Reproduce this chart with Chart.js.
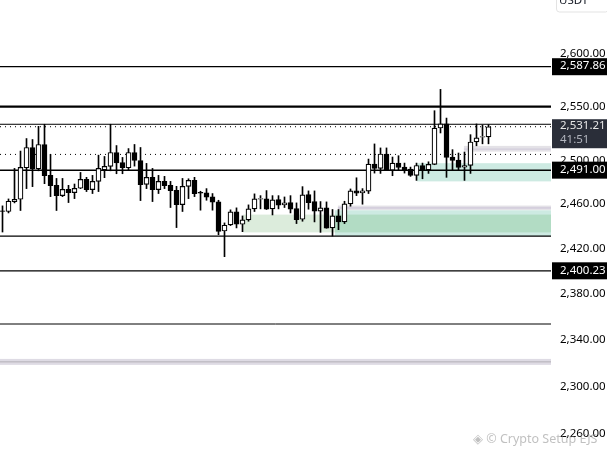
<!DOCTYPE html>
<html>
<head>
<meta charset="utf-8">
<style>
    html, body { margin: 0; padding: 0; background: #fff; }
    #wrap { width: 607px; height: 455px; }
</style>
<script src="https://cdn.jsdelivr.net/npm/chart.js@4"></script>
</head>
<body>
<div id="wrap"><canvas id="chart"></canvas></div>
<script>
// Candles
const opens = [2453.9,2453.3,2462.3,2464.4,2493.2,2511.9,2492.2,2514.7,2486.2,2477.1,2467.7,2473.5,2470.5,2474.4,2482.5,2473.2,2480.7,2491.3,2494.4,2507.3,2498,2493.2,2507.3,2499.9,2478,2484.4,2473.2,2480.7,2477.1,2472.6,2459.6,2476.2,2481.6,
    2470.8,2470.2,2466.5,2462,2435.7,2441.2,2453,2441.8,2445.7,2455.7,2464.4,2464.7,2455.7,2464.1,2459.3,2461.4,2456,2446.3,2468.7,2462.3,2453.6,2456.6,2438.5,2449.3,2443.9,2460.2,2472,2470.2,
    2471.7,2496.6,2492.6,2505.9,2491,2497.5,2493.8,2491.9,2486.2,2495.3,2491.3,2496.3,2530,2533.8,2503.1,2500.3,2493.8,2495.3,2517,2521.4,2521.7];
const closes = [2453.3,2462.6,2464.4,2493.5,2511.9,2492.2,2514.7,2485.9,2476.8,2467.7,2473.5,2470.5,2474.4,2482.5,2473.2,2480.7,2492.6,2494.4,2507.3,2497.7,2493.2,2507.3,2499.9,2477.7,2484.4,2473.2,2480.7,2476.8,2472.3,2459.6,2476.2,2481.6,2469.6,
    2469.9,2466.2,2461.7,2435.4,2440.9,2453,2441.8,2445.7,2455.7,2464.7,2465,2455.4,2463.8,2459,2461.1,2455.4,2446,2468.4,2461.4,2453.6,2456.6,2438.2,2449.3,2443.9,2460.2,2472,2469.9,2472,
    2496.6,2492.6,2505.9,2491,2497.5,2493.5,2491,2486.2,2495.3,2491.3,2496.3,2530,2533.8,2502.8,2500,2493.5,2495.3,2517,2520.8,2522,2531.2];
const highs = [2458.4,2464.7,2492.6,2508.6,2520.2,2519.3,2531.6,2533.5,2505.5,2483.4,2483.4,2477.1,2478.3,2488.9,2484.4,2486.2,2504.8,2503.6,2533.5,2513.7,2502.7,2510.9,2514.7,2511.9,2497.2,2492.6,2486.2,2485.3,2480.7,2476.2,2483.4,2483.1,2484.4,
    2471.7,2474.1,2469.6,2463.5,2443,2454.8,2456.6,2449.3,2459.3,2469.3,2467.7,2472.3,2467.7,2467.7,2466.5,2467.7,2461.1,2475.9,2472,2472,2462.3,2462,2455.1,2455.1,2462.6,2473.8,2484,2474.1,
    2501.2,2515.2,2511.5,2511.5,2503.1,2504.3,2497.5,2493.8,2497.5,2497.5,2498.7,2546.2,2566.3,2539.3,2509.9,2506.8,2507.7,2523.8,2533.8,2532.8,2533.2];
const lows = [2434.8,2452,2461.1,2454.2,2474.1,2475.9,2490.4,2478.6,2466.8,2454.2,2466.8,2461.4,2465,2474.1,2471.4,2469.6,2471.4,2484.1,2490.4,2487.7,2487.7,2491,2494.7,2463.2,2474.1,2462.3,2469.6,2474.1,2456.9,2438.8,2453.3,2465,2466.8,
    2454.5,2463.5,2454.5,2432.4,2412.8,2440.6,2438.5,2435.1,2444.5,2453.3,2455.7,2455.1,2450.2,2455.7,2456.9,2452,2442.4,2444.5,2455.4,2443.9,2434.5,2438.2,2431.2,2436.9,2442.4,2458.1,2467.7,2459.9,
    2469.6,2488.3,2488,2490.5,2485.9,2491,2488.3,2485.3,2481.6,2483.1,2488,2496,2525.4,2484.4,2491.3,2491.3,2481.6,2488,2513.5,2515.3,2515.3];

// Horizontal levels
const solidLevels = [2587.86, 2550, 2533.5, 2491, 2431.2, 2400.23, 2353.6];
const solidWidths = [1.3, 2.2, 1, 1.5, 1.2, 1.2, 1];
const dottedLevels = [2531.21, 2505.5];

// Price axis
const tickValues = [2600, 2550, 2500, 2460, 2420, 2380, 2340, 2300, 2260];
const axisMin = 2255.8;
const axisMax = 2636.8;
const slotMin = -0.417;
const slotMax = 91.417;

// Zones: price range and the candle slot they start / end at
const zoneTops = [2323.5, 2321.5, 2513.4, 2511, 2458.7, 2457.4, 2454.4, 2450.5, 2450.5, 2497.4];
const zoneBottoms = [2318.4, 2320.5, 2508.1, 2509.7, 2454.4, 2455.7, 2431.2, 2434.5, 2434.5, 2480.7];
const zoneStarts = [slotMin, slotMin, 76.9, 76.9, 55.9, 55.9, 55.4, 55.4, 40.1, 69.1];
const zoneEnds = [slotMax, slotMax, slotMax, slotMax, slotMax, slotMax, slotMax, slotMax, 55.4, slotMax];
const zoneFills = ['#dedbe4', '#b9b6bd', '#e4e2e7', '#d5cfdd', '#e4e2e7', '#d5cfdd', '#cdeae2', '#b2dcc4', '#dcecdc', '#cdeae2'];

// Price tags on the axis
const tagValues = [2587.86, 2491, 2400.23];
const lastPrice = 2531.21;
const countdown = '41:51';

const FONT = '"Noto Sans", sans-serif';
const fmt = v => v.toLocaleString('en-US', { minimumFractionDigits: 2, maximumFractionDigits: 2 });

const overlays = {
    id: 'overlays',
    beforeDatasetsDraw(chart) {
        const { ctx, scales: { x, y } } = chart;
        ctx.save();
        zoneTops.forEach((top, i) => {
            const x0 = x.getPixelForValue(zoneStarts[i]);
            const x1 = x.getPixelForValue(zoneEnds[i]);
            const y0 = y.getPixelForValue(top);
            const y1 = y.getPixelForValue(zoneBottoms[i]);
            ctx.fillStyle = zoneFills[i];
            ctx.fillRect(x0, y0, x1 - x0, y1 - y0);
        });
        // watermark
        ctx.fillStyle = 'rgba(140,140,140,0.55)';
        ctx.font = '12.5px ' + FONT;
        ctx.textAlign = 'left';
        ctx.textBaseline = 'middle';
        ctx.fillText('◈ © Crypto Setup EJS', 473, 439);
        ctx.restore();
    },
    afterDraw(chart) {
        const { ctx, scales: { y } } = chart;
        ctx.save();
        ctx.font = '11.5px ' + FONT;
        ctx.textAlign = 'left';
        ctx.textBaseline = 'middle';

        // last price box with countdown
        const py = y.getPixelForValue(lastPrice);
        ctx.fillStyle = '#2a2e39';
        ctx.fillRect(552, py - 7.5, 55, 29);
        ctx.fillStyle = '#e6e6e6';
        ctx.fillText(fmt(lastPrice), 560, py - 1);
        ctx.fillStyle = '#b2b5be';
        ctx.fillText(countdown, 560, py + 13);

        tagValues.forEach(v => {
            const ty = y.getPixelForValue(v);
            ctx.fillStyle = '#000';
            ctx.fillRect(552, ty - 8.5, 55, 17);
            ctx.fillStyle = '#fff';
            ctx.fillText(fmt(v), 560, ty - 0.5);
        });

        // currency box, cut off by the top edge
        ctx.strokeStyle = '#e3e3e3';
        ctx.beginPath();
        ctx.roundRect(556.5, -10, 52, 22, 3);
        ctx.stroke();
        ctx.fillStyle = '#131722';
        ctx.fillText('USDT', 559, 1);
        ctx.restore();
    }
};

const levelDataset = (value, width, dash) => ({
    type: 'line',
    data: [{ x: slotMin, y: value }, { x: slotMax, y: value }],
    borderColor: '#000',
    borderWidth: width,
    borderDash: dash,
    pointRadius: 0,
    order: 3
});

new Chart(document.getElementById('chart'), {
    type: 'bar',
    data: {
        datasets: [
            {
                // bodies
                data: opens.map((o, i) => ({ x: i, y: [o, closes[i]] })),
                backgroundColor: opens.map((o, i) => closes[i] >= o ? '#fff' : '#000'),
                borderColor: '#000',
                borderWidth: 1.2,
                borderSkipped: false,
                barThickness: 5,
                grouped: false,
                order: 1
            },
            {
                // wicks
                data: lows.map((l, i) => ({ x: i, y: [l, highs[i]] })),
                backgroundColor: '#000',
                borderWidth: 0,
                barThickness: 1,
                grouped: false,
                order: 2
            },
            ...solidLevels.map((v, i) => levelDataset(v, solidWidths[i], [])),
            ...dottedLevels.map(v => levelDataset(v, 1, [1, 4]))
        ]
    },
    options: {
        responsive: true,
        maintainAspectRatio: false,
        animation: false,
        layout: { padding: 0, autoPadding: false },
        plugins: { legend: { display: false }, tooltip: { enabled: false } },
        scales: {
            x: { type: 'linear', display: false, offset: false, min: slotMin, max: slotMax },
            y: {
                type: 'logarithmic',
                position: 'right',
                min: axisMin,
                max: axisMax,
                grid: { display: false, drawTicks: false },
                border: { display: false },
                afterFit: scale => { scale.width = 56; },
                afterBuildTicks: scale => { scale.ticks = tickValues.map(value => ({ value })); },
                ticks: {
                    autoSkip: false,
                    padding: 9,
                    color: '#000',
                    font: { family: FONT, size: 11.5 },
                    callback: value => fmt(value)
                }
            }
        }
    },
    plugins: [overlays]
});
</script>
</body>
</html>
